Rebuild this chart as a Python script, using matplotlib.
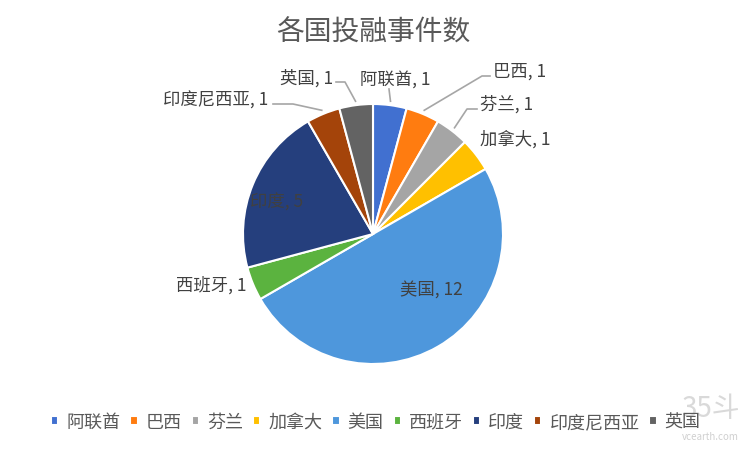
import numpy as np
import matplotlib
matplotlib.use("Agg")
import matplotlib.pyplot as plt

plt.rcParams['font.family'] = ['Noto Sans CJK SC', 'DejaVu Sans']

# data
countries = ['阿联酋', '巴西', '芬兰', '加拿大', '美国', '西班牙', '印度', '印度尼西亚', '英国']
counts = [1, 1, 1, 1, 12, 1, 5, 1, 1]
colors = ['#4170D0', '#FF7C10', '#A5A5A5', '#FFC000', '#4E97DC',
          '#5BB33F', '#253F7D', '#A4440A', '#636363']
title = '各国投融事件数'

W, H = 741, 452
fig = plt.figure(figsize=(W / 100, H / 100), dpi=100)
ax = fig.add_axes([0, 0, 1, 1])

# pixel-based layout (y measured from top)
cx, cy, R = 373, 235, 130


def py(y):
    return H - y


wedges, _ = ax.pie(counts, colors=colors, startangle=90, counterclock=False,
                   center=(cx, py(cy)), radius=R,
                   wedgeprops=dict(edgecolor='white', linewidth=1.5))
ax.set_xlim(0, W)
ax.set_ylim(0, H)
ax.set_aspect('equal')
ax.axis('off')

# label layout: (x, y, ha, leader elbow points or None)
layout = {
    '阿联酋': (395, 80, 'center', [(389, 90)]),
    '巴西': (493, 72, 'left', [(482, 77), (490, 77)]),
    '芬兰': (480, 104, 'left', [(467, 110), (477, 110)]),
    '加拿大': (480, 139, 'left', None),
    '美国': (431, 291, 'center', None),
    '西班牙': (247, 285, 'right', None),
    '印度': (277, 203, 'center', None),
    '印度尼西亚': (268, 101, 'right', [(293, 105), (273, 105)]),
    '英国': (333, 78, 'right', [(345, 83), (336, 83)]),
}

for w, name, n in zip(wedges, countries, counts):
    x, y, ha, pts = layout[name]
    ax.text(x, py(y), f'{name}, {n}', ha=ha, va='center',
            fontsize=12.5, color='#404040')
    if pts:
        mid = np.deg2rad((w.theta1 + w.theta2) / 2)
        ex = cx + R * 1.03 * np.cos(mid)
        ey = py(cy) + R * 1.03 * np.sin(mid)
        xs = [ex] + [p[0] for p in pts]
        ys = [ey] + [py(p[1]) for p in pts]
        ax.plot(xs, ys, color='#A6A6A6', lw=1.2)

ax.text(373, py(33), title, ha='center', va='center', fontsize=20, color='#595959')

fig.legend(wedges, countries, loc='center', bbox_to_anchor=(376 / W, 1 - 423 / H),
           ncol=9, frameon=False, fontsize=13, labelcolor='#595959',
           handlelength=0.4, handleheight=0.4, handletextpad=0.45,
           columnspacing=0.55)

# watermark
ax.text(710, py(409), '35斗', ha='center', va='center', fontsize=20, color='#D9D9D9')
ax.text(710, py(437), 'vcearth.com', ha='center', va='center', fontsize=7, color='#D0D0D0')

fig.savefig('out.png', dpi=100)
